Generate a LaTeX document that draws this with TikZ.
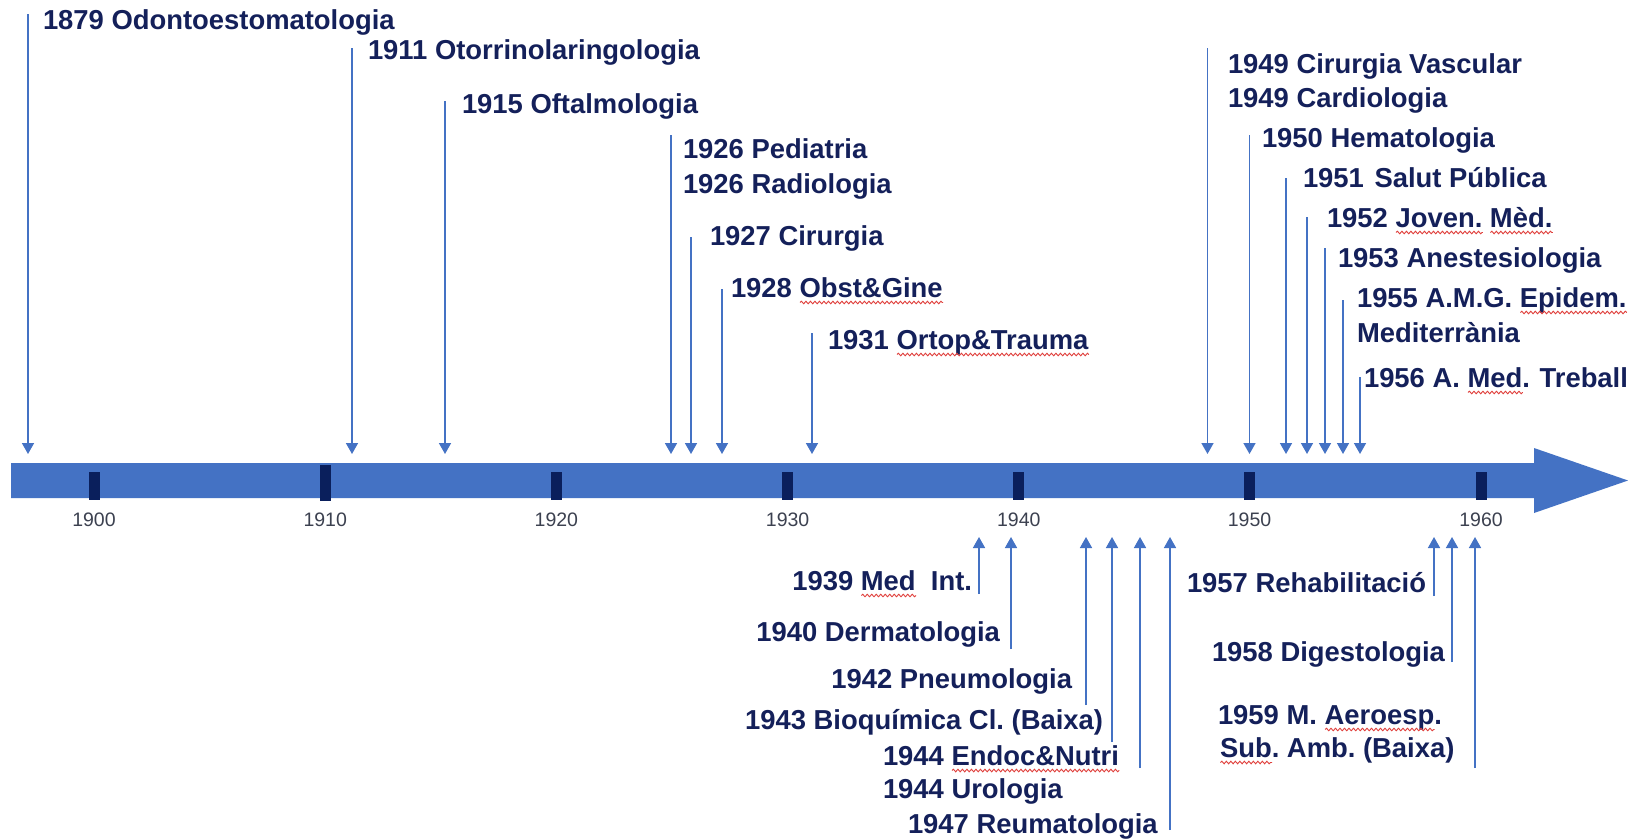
\documentclass[tikz,border=0pt]{standalone}
\usepackage{fontspec}
\setmainfont{Liberation Sans}
\usetikzlibrary{arrows.meta,decorations.pathmorphing}
\definecolor{barblue}{HTML}{4472C4}
\definecolor{navy}{HTML}{14205A}
\definecolor{tickc}{HTML}{0A1F5C}
\definecolor{yeargray}{HTML}{3C4150}
\definecolor{sqred}{HTML}{E0403C}
\tikzset{
  sqline/.style={draw=sqred, line width=0.9pt, decorate,
    decoration={snake, amplitude=1.3pt, segment length=4.5pt}},
  lab/.style={font=\bfseries\fontsize{27.4}{33}\selectfont, text=navy, inner sep=0pt, outer sep=0pt},
  labw/.style={lab, anchor=base west},
  labe/.style={lab, anchor=base east},
  yearlab/.style={font=\fontsize{19.5}{22}\selectfont, text=yeargray, inner sep=0pt, anchor=base},
  arr/.style={draw=barblue, line width=1.6pt, -{Triangle[width=12pt,length=11pt]}},
  tickbox/.style={fill=tickc}
}
\frenchspacing
\newsavebox\sqbox
\newcommand\sqw[1]{\sbox\sqbox{#1}\mbox{\rlap{\usebox\sqbox}\makebox[\wd\sqbox][l]{\raisebox{-5.5pt}[0pt][0pt]{\tikz[baseline=0pt]\draw[sqline] (0pt,0pt) -- (\the\wd\sqbox,0pt);}}}}
\begin{document}
\begin{tikzpicture}[x=1pt,y=-1pt]
\useasboundingbox (0,0) rectangle (1628,839);
\fill[white] (0,0) rectangle (1628,839);
% timeline bar
\fill[barblue] (11,463) -- (1534,463) -- (1534,448) -- (1628,480.5) -- (1534,513) -- (1534,498) -- (11,498) -- cycle;
% ticks and year labels
\foreach \yr/\x in {1900/94, 1920/556.4, 1930/787.6, 1940/1018.8, 1950/1249.5, 1960/1481}{
  \fill[tickbox] (\x-5.5,472) rectangle (\x+5.5,500);
  \node[yearlab] (y\yr) at (\x,526) {\yr};
}
\fill[tickbox] (325.2-5.5,465) rectangle (325.2+5.5,501);
\node[yearlab] (y1910) at (325.2,526) {1910};
% downward arrows
\foreach \n/\x/\t in {1879/28/14, 1911/352/48, 1915/445/101, 1926/671/135, 1927/691/237,
  1928/722/289, 1931/812/333, 1949/1207.5/48, 1950/1249.5/135, 1951/1286/178,
  1952/1307/217, 1953/1325/248, 1955/1343/300, 1956/1360/377}{
  \coordinate (d\n-s) at (\x,\t);
  \coordinate (d\n-e) at (\x,454);
  \draw[arr] (d\n-s) -- (d\n-e);
}
% upward arrows
\foreach \n/\x/\b in {1939/979/594, 1940/1011/649, 1942/1086/705, 1943/1112/742,
  1944/1140/768, 1947/1170/830, 1957/1434/596, 1958/1452/662, 1959/1475/768}{
  \coordinate (u\n-s) at (\x,\b);
  \coordinate (u\n-e) at (\x,537);
  \draw[arr] (u\n-s) -- (u\n-e);
}
% top labels
\node[labw] (t1879) at (43,29) {1879 Odontoestomatologia};
\node[labw] (t1911) at (368,59) {1911 Otorrinolaringologia};
\node[labw] (t1915) at (462,113) {1915 Oftalmologia};
\node[labw] (t1926a) at (683,158) {1926 Pediatria};
\node[labw] (t1926b) at (683,193) {1926 Radiologia};
\node[labw] (t1927) at (710,245) {1927 Cirurgia};
\node[labw] (t1928) at (731,297) {1928 \sqw{Obst\&Gine}};
\node[labw] (t1931) at (828,349) {1931 \sqw{Ortop\&Trauma}};
\node[labw] (t1949a) at (1228,73) {1949 Cirurgia Vascular};
\node[labw] (t1949b) at (1228,107) {1949 Cardiologia};
\node[labw] (t1950) at (1262,147) {1950 Hematologia};
\node[labw] (t1951) at (1303,187) {1951\hspace{3pt} Salut Pública};
\node[labw] (t1952) at (1327,227) {1952 \sqw{Joven.} \sqw{Mèd.}};
\node[labw] (t1953) at (1338,267) {1953 Anestesiologia};
\node[labw] (t1955a) at (1357,307) {1955 A.M.G. \sqw{Epidem.}};
\node[labw] (t1955b) at (1357,342) {Mediterrània};
\node[labw] (t1956) at (1364,387) {1956 A. \sqw{Med}.\hspace{2pt} Treball};
% bottom labels
\node[labe] (b1939) at (972,590) {1939 \sqw{Med}\ \ Int.};
\node[labe] (b1940) at (1000,641) {1940 Dermatologia};
\node[labe] (b1942) at (1072,688) {1942 Pneumologia};
\node[labe] (b1943) at (1103,729) {1943 Bioquímica Cl. (Baixa)};
\node[labw] (b1944a) at (883,765) {1944 \sqw{Endoc\&Nutri}};
\node[labw] (b1944b) at (883,798) {1944 Urologia};
\node[labw] (b1947) at (908,833) {1947 Reumatologia};
\node[labw] (b1957) at (1187,592) {1957 Rehabilitació};
\node[labw] (b1958) at (1212,661) {1958 Digestologia};
\node[labw] (b1959a) at (1218,724) {1959 M. \sqw{Aeroesp}.};
\node[labw] (b1959b) at (1220,757) {\sqw{Sub}. Amb. (Baixa)};
\end{tikzpicture}
\end{document}
